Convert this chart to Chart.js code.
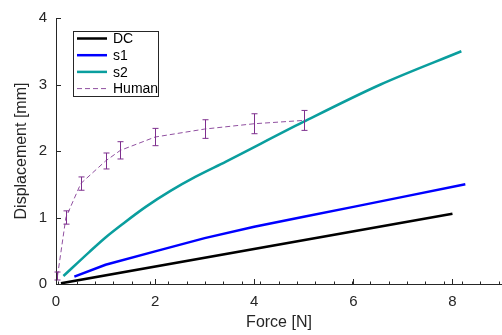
<!DOCTYPE html>
<html lang="en">
<head>
  <meta charset="UTF-8" />
  <title>Force vs Displacement</title>
  <script src="https://cdn.jsdelivr.net/npm/chart.js"></script>
  <style>
    body {
      margin: 0;
      background: #fff;
    }
    #wrap {
      width: 502px;
      height: 335px;
    }
  </style>
</head>
<body>
  <div id="wrap"><canvas id="forceChart" width="502" height="335"></canvas></div>

  <script>
    // DC
    const dcForce = [0.1, 8.0];
    const dcDisp = [0.01, 1.056];
    // s1
    const s1Force = [0.37, 1, 2, 3, 4, 5, 6, 7, 8.26];
    const s1Disp = [0.11, 0.29, 0.49, 0.69, 0.86, 1.01, 1.16, 1.31, 1.5];
    // s2
    const s2Force = [0.15, 0.67, 1.0, 1.34, 1.81, 2.31, 2.81, 3.43, 5.0, 6.55, 8.18];
    const s2Disp = [0.12, 0.48, 0.70, 0.90, 1.16, 1.40, 1.61, 1.84, 2.44, 3.0, 3.5];
    // Human (mean +/- error)
    const humanForce = [0.03, 0.2, 0.5, 1.0, 1.3, 2.0, 3.0, 4.0, 5.0];
    const humanDisp = [0.12, 1.0, 1.51, 1.85, 2.01, 2.21, 2.33, 2.41, 2.46];
    const humanErr = [0.06, 0.1, 0.1, 0.12, 0.13, 0.13, 0.14, 0.15, 0.15];

    const xTicks = [0, 2, 4, 6, 8];
    const yTicks = [0, 1, 2, 3, 4];

    const axisColor = '#262626';
    const fontFamily = '"Liberation Sans", Arial, Helvetica, sans-serif';

    const toPoints = (xs, ys) => xs.map((v, i) => ({ x: v, y: ys[i] }));

    // inward tick marks + minor ticks on the x axis
    const axisTicks = {
      id: 'axisTicks',
      afterDraw(chart) {
        const { ctx, chartArea, scales: { x, y } } = chart;
        ctx.save();
        ctx.strokeStyle = axisColor;
        ctx.lineWidth = 1;
        ctx.beginPath();
        xTicks.forEach(v => {
          const px = Math.round(x.getPixelForValue(v)) + 0.5;
          ctx.moveTo(px, chartArea.bottom);
          ctx.lineTo(px, chartArea.bottom - 5);
        });
        for (let v = 0.05; v < x.max; v += 0.37) {
          const px = Math.round(x.getPixelForValue(v)) + 0.5;
          ctx.moveTo(px, chartArea.bottom);
          ctx.lineTo(px, chartArea.bottom - 2.5);
        }
        yTicks.forEach(v => {
          const py = Math.round(y.getPixelForValue(v)) + 0.5;
          ctx.moveTo(chartArea.left, py);
          ctx.lineTo(chartArea.left + 5, py);
        });
        ctx.stroke();
        ctx.restore();
      }
    };

    // error bars for the Human series
    const errorBars = {
      id: 'errorBars',
      afterDatasetsDraw(chart) {
        const { ctx, scales: { x, y } } = chart;
        ctx.save();
        ctx.strokeStyle = '#7E2F8E';
        ctx.lineWidth = 1;
        ctx.beginPath();
        humanForce.forEach((f, i) => {
          const px = Math.round(x.getPixelForValue(f)) + 0.5;
          const top = y.getPixelForValue(humanDisp[i] + humanErr[i]);
          const bot = y.getPixelForValue(humanDisp[i] - humanErr[i]);
          ctx.moveTo(px, top);
          ctx.lineTo(px, bot);
          ctx.moveTo(px - 3, top);
          ctx.lineTo(px + 3, top);
          ctx.moveTo(px - 3, bot);
          ctx.lineTo(px + 3, bot);
        });
        ctx.stroke();
        ctx.restore();
      }
    };

    // boxed legend inside the plot, top-left
    const boxLegend = {
      id: 'boxLegend',
      afterDraw(chart) {
        const { ctx, chartArea } = chart;
        const left = chartArea.left + 17;
        const top = chartArea.top + 13;
        const w = 85, rowH = 16.7;
        const h = 65;
        ctx.save();
        ctx.fillStyle = '#fff';
        ctx.fillRect(left, top, w, h);
        ctx.strokeStyle = axisColor;
        ctx.lineWidth = 1;
        ctx.strokeRect(Math.round(left) + 0.5, Math.round(top) + 0.5, w, h);
        ctx.font = '14px ' + fontFamily;
        ctx.textBaseline = 'middle';
        chart.data.datasets.forEach((ds, i) => {
          const cy = top + 7.5 + i * rowH;
          ctx.strokeStyle = ds.borderColor;
          ctx.lineWidth = ds.borderWidth;
          ctx.setLineDash(ds.borderDash || []);
          ctx.beginPath();
          ctx.moveTo(left + 4, cy);
          ctx.lineTo(left + 34, cy);
          ctx.stroke();
          ctx.setLineDash([]);
          ctx.fillStyle = '#000';
          ctx.fillText(ds.label, left + 40, cy + 1);
        });
        ctx.restore();
      }
    };

    new Chart(document.getElementById('forceChart'), {
      type: 'line',
      data: {
        datasets: [
          {
            label: 'DC',
            data: toPoints(dcForce, dcDisp),
            borderColor: '#000000',
            borderWidth: 2.5,
            pointRadius: 0
          },
          {
            label: 's1',
            data: toPoints(s1Force, s1Disp),
            borderColor: '#0000ff',
            borderWidth: 2.5,
            pointRadius: 0
          },
          {
            label: 's2',
            data: toPoints(s2Force, s2Disp),
            borderColor: '#0a9e9e',
            borderWidth: 2.5,
            pointRadius: 0,
            cubicInterpolationMode: 'monotone'
          },
          {
            label: 'Human',
            data: toPoints(humanForce, humanDisp),
            borderColor: '#9050a0',
            borderWidth: 1,
            borderDash: [5, 3],
            pointRadius: 0
          }
        ]
      },
      options: {
        responsive: false,
        animation: false,
        layout: { autoPadding: false, padding: { top: 14, right: 0, left: 0, bottom: 0 } },
        plugins: {
          legend: { display: false },
          tooltip: { enabled: false }
        },
        scales: {
          x: {
            type: 'linear',
            min: 0,
            max: 9,
            afterFit: s => { s.height = 51; },
            afterBuildTicks: s => { s.ticks = xTicks.map(v => ({ value: v })); },
            ticks: {
              includeBounds: false,
              padding: 9,
              color: axisColor,
              font: { family: fontFamily, size: 15 }
            },
            grid: { drawOnChartArea: false, drawTicks: false },
            border: { color: axisColor, width: 1 },
            title: {
              display: true,
              text: 'Force [N]',
              color: axisColor,
              padding: { top: 0, bottom: 3 },
              font: { family: fontFamily, size: 16 }
            }
          },
          y: {
            type: 'linear',
            min: 0,
            max: 4,
            afterFit: s => { s.width = 56; },
            afterBuildTicks: s => { s.ticks = yTicks.map(v => ({ value: v })); },
            ticks: {
              padding: 9,
              color: axisColor,
              font: { family: fontFamily, size: 15 }
            },
            grid: { drawOnChartArea: false, drawTicks: false },
            border: { color: axisColor, width: 1 },
            title: {
              display: true,
              text: 'Displacement [mm]',
              color: axisColor,
              padding: { top: 12, bottom: 0 },
              font: { family: fontFamily, size: 16 }
            }
          }
        }
      },
      plugins: [axisTicks, errorBars, boxLegend]
    });
  </script>
</body>
</html>
